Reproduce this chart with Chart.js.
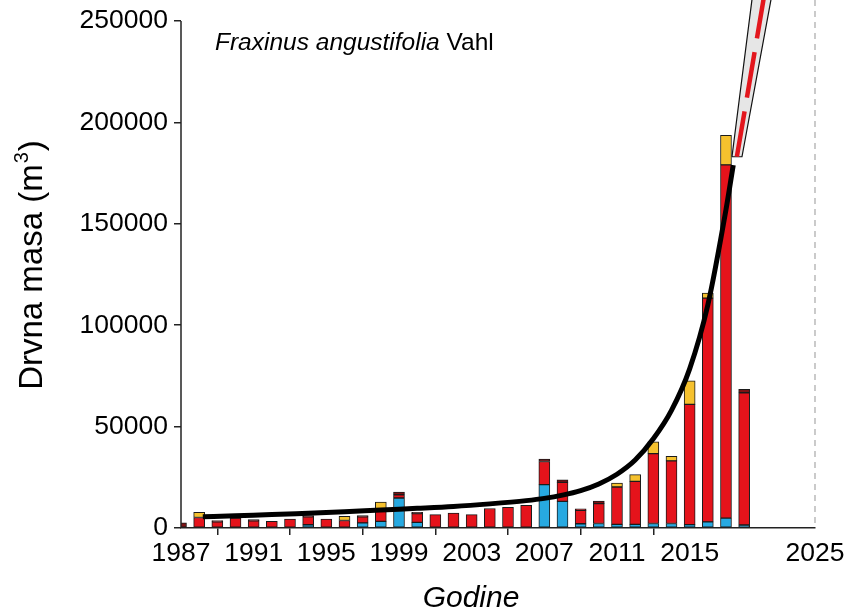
<!DOCTYPE html>
<html><head><meta charset="utf-8">
<script src="https://cdn.jsdelivr.net/npm/chart.js@4.4.1/dist/chart.umd.min.js"></script>
<style>html,body{margin:0;padding:0;background:#fff}#wrap{width:850px;height:615px}</style>
</head><body><div id="wrap"><canvas id="c" width="850" height="615"></canvas></div>
<script>
// ---- data ----
const years      = [1987,1988,1989,1990,1991,1992,1993,1994,1995,1996,1997,1998,1999,2000,2001,2002,2003,2004,2005,2006,2007,2008,2009,2010,2011,2012,2013,2014,2015,2016,2017,2018];
const blueVals   = [0,0,0,0,0,0,0,1600,0,0,2500,3300,14800,2800,0,0,0,0,0,0,21400,13100,2100,2200,1800,1800,2200,2200,1700,3000,4900,1500];
const redVals    = [0,5200,3100,4900,3500,3300,4400,3900,4400,3700,3000,5400,1600,4300,6600,7400,6600,9600,10200,11200,11400,9400,6600,9800,18400,21200,34500,30900,59300,110400,174200,65200];
const darkVals   = [2500,0,600,0,600,0,0,600,0,0,600,0,1300,600,0,0,0,0,0,0,1200,1300,700,1300,0,0,0,0,0,0,0,1700];
const yellowVals = [0,2500,0,0,0,0,0,0,0,2000,0,4100,0,0,0,0,0,0,0,0,0,0,0,0,2000,3300,5800,2300,11600,2500,14500,0];

const curveYears = [1988.2,1990,1992,1994,1996,1998,2000,2002,2004,2006,2007,2008,2009,2010,2011,2012,2013,2014,2015,2016,2017,2017.4];
const curveVals  = [5500,6100,6600,7300,8000,8900,9700,10600,11900,13500,14600,16200,18400,21700,26500,33500,44000,58000,78500,110000,157000,179000];

const bandYears  = [2017.33,2018.99,2020.29,2017.88,2017.33];
const bandVals   = [183100,300000,300000,183100,183100];
const trendYears = [2017.6,2019.81];
const trendVals  = [183100,300000];

const xTickYears = [1987,1991,1995,1999,2003,2007,2011,2015];
const xEndLabel  = '2025';
const yTickVals  = [0,50000,100000,150000,200000,250000];

const titleItalic = 'Fraxinus angustifolia';
const titleNormal = ' Vahl';
const yTitleMain  = 'Drvna masa (m';
const yTitleSup   = '3';
const yTitleEnd   = ')';
const xTitle      = 'Godine';

// ---- build ----
const FONT = "'Liberation Sans', Arial, Helvetica, sans-serif";
const pts = (xs, ys) => xs.map((x, i) => ({x, y: ys[i]}));
const barPts = vals => years.map((x, i) => ({x, y: vals[i] ? vals[i] : null}));

const barCommon = {type:'bar', barThickness: 11, borderWidth: 1, borderColor: '#1b1b1b', borderSkipped: false, order: 5, stack: 'bars'};

const decor = {
  id: 'decor',
  afterDatasetsDraw(chart) {
    const {ctx, chartArea, scales} = chart;
    const y = scales.y;
    ctx.save();
    ctx.strokeStyle = '#222'; ctx.lineWidth = 1.5;
    ctx.beginPath();
    ctx.moveTo(chartArea.left, y.getPixelForValue(0));
    ctx.lineTo(chartArea.left, y.getPixelForValue(yTickVals[yTickVals.length-1]));
    ctx.stroke();
    ctx.strokeStyle = '#a8a8a8'; ctx.lineWidth = 1.2; ctx.setLineDash([6,5]);
    ctx.beginPath();
    ctx.moveTo(chartArea.right, 0);
    ctx.lineTo(chartArea.right, chartArea.bottom);
    ctx.stroke();
    ctx.setLineDash([]);
    ctx.fillStyle = '#000';
    ctx.textBaseline = 'alphabetic';
    ctx.textAlign = 'left';
    ctx.font = 'italic 24.5px ' + FONT;
    const tx = 215, ty = 50;
    ctx.fillText(titleItalic, tx, ty);
    const w1 = ctx.measureText(titleItalic).width;
    ctx.font = '24.5px ' + FONT;
    ctx.fillText(titleNormal, tx + w1, ty);
    ctx.font = 'italic 30px ' + FONT;
    ctx.textAlign = 'center';
    ctx.fillText(xTitle, 471, 607);
    ctx.translate(42, 266);
    ctx.rotate(-Math.PI/2);
    ctx.textAlign = 'left';
    ctx.font = '33px ' + FONT;
    const wa = ctx.measureText(yTitleMain).width;
    ctx.font = '20px ' + FONT;
    const wb = ctx.measureText(yTitleSup).width;
    ctx.font = '33px ' + FONT;
    const wc = ctx.measureText(yTitleEnd).width;
    let sx = -(wa + wb + wc) / 2;
    ctx.fillText(yTitleMain, sx, 0);
    ctx.font = '20px ' + FONT;
    ctx.fillText(yTitleSup, sx + wa + 1, -14);
    ctx.font = '33px ' + FONT;
    ctx.fillText(yTitleEnd, sx + wa + wb + 2, 0);
    ctx.restore();
  }
};

new Chart(document.getElementById('c'), {
  data: {
    datasets: [
      {type:'line', label:'trend', data: pts(trendYears, trendVals), borderColor:'#e3161d', borderWidth:4.5, borderDash:[46,14], pointRadius:0, fill:false, order:0, stack:'trend', clip:false},
      {type:'line', label:'fit', data: pts(curveYears, curveVals), borderColor:'#000', borderWidth:5, pointRadius:0, cubicInterpolationMode:'monotone', fill:false, order:1, stack:'fit'},
      {type:'line', label:'band', data: pts(bandYears, bandVals), borderColor:'#111', borderWidth:1.2, backgroundColor:'#e6e6e6', pointRadius:0, fill:'shape', order:2, stack:'band', clip:false},
      Object.assign({label:'blue', data: barPts(blueVals), backgroundColor:'#27a9e1'}, barCommon),
      Object.assign({label:'red', data: barPts(redVals), backgroundColor:'#e5131b'}, barCommon),
      Object.assign({label:'dark', data: barPts(darkVals), backgroundColor:'#7d1214'}, barCommon),
      Object.assign({label:'yellow', data: barPts(yellowVals), backgroundColor:'#f5c12e'}, barCommon)
    ]
  },
  options: {
    responsive: false,
    animation: false,
    devicePixelRatio: 1,
    layout: {padding: {left: 0, right: 35, top: 0, bottom: 0}},
    plugins: {legend: {display: false}, tooltip: {enabled: false}},
    scales: {
      x: {
        type: 'linear', min: 1987, max: 2021.9, stacked: true, offset: false,
        grid: {drawOnChartArea: false, drawTicks: true, tickLength: 7, lineWidth: 1.5,
               color: c => (c.tick && c.tick.value > xTickYears[xTickYears.length-1] + 1) ? 'rgba(0,0,0,0)' : '#222'},
        border: {display: true, color: '#222', width: 1.5},
        ticks: {color: '#000', font: {family: FONT, size: 26.5}, padding: 3, maxRotation: 0, autoSkip: false,
                callback: v => v > xTickYears[xTickYears.length-1] + 1 ? xEndLabel : String(v)},
        afterBuildTicks: s => { s.ticks = xTickYears.map(v => ({value: v})).concat([{value: s.max}]); },
        afterFit: s => { s.height = 87; s.paddingLeft = 0; s.paddingRight = 0; }
      },
      y: {
        type: 'linear', min: 0, max: 260400, stacked: true,
        grid: {drawOnChartArea: false, drawTicks: true, tickLength: 7, lineWidth: 1.5, color: '#222'},
        border: {display: false},
        ticks: {color: '#000', font: {family: FONT, size: 26.5}, padding: 6, callback: v => String(v)},
        afterBuildTicks: s => { s.ticks = yTickVals.map(v => ({value: v})); },
        afterFit: s => { s.width = 181; s.paddingTop = 0; s.paddingBottom = 0; }
      }
    }
  },
  plugins: [decor]
});
</script></body></html>
